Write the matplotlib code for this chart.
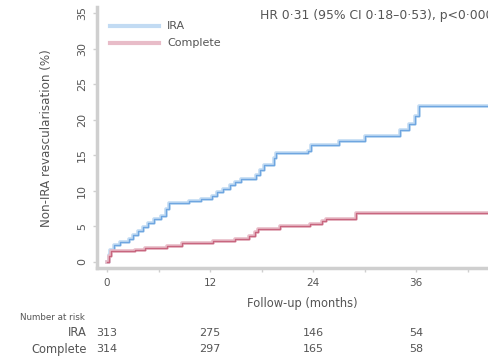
import matplotlib
matplotlib.use("Agg")
import matplotlib.pyplot as plt
from matplotlib.lines import Line2D

# ---- data ----
ira_t = [0, 0.2, 0.4, 0.8, 1.5, 2.5, 3.0, 3.6, 4.2, 4.8, 5.5, 6.3, 6.9, 7.2, 9.5, 11.0,
         12.2, 12.8, 13.5, 14.3, 14.9, 15.6, 17.3, 17.8, 18.3, 19.5, 19.7, 23.4, 23.8,
         27.0, 30.0, 34.1, 35.2, 35.9, 36.3, 46]
ira_v = [0, 1.0, 1.7, 2.4, 2.8, 3.3, 3.8, 4.3, 4.9, 5.5, 6.0, 6.5, 7.4, 8.3, 8.6, 8.9,
         9.3, 9.8, 10.3, 10.8, 11.3, 11.7, 12.3, 13.0, 13.7, 14.6, 15.3, 15.6, 16.5,
         17.0, 17.8, 18.6, 19.4, 20.5, 21.9, 21.9]
comp_t = [0, 0.2, 0.5, 3.3, 4.4, 7.0, 8.7, 12.4, 14.9, 16.5, 17.2, 17.6, 20.2, 23.7,
          25.0, 25.5, 29.0, 46]
comp_v = [0, 0.8, 1.5, 1.7, 1.9, 2.2, 2.6, 2.9, 3.2, 3.6, 4.2, 4.6, 5.0, 5.4,
          5.8, 6.1, 6.9, 6.9]

risk_times = [0, 12, 24, 36]
risk_ira = [313, 275, 146, 54]
risk_comp = [314, 297, 165, 58]
groups = ["IRA", "Complete"]
y_ticks = [0, 5, 10, 15, 20, 25, 30, 35]
x_ticks = [0, 12, 24, 36]
x_minor = [6, 18, 30, 42]
hr_text = "HR 0\u00b731 (95% CI 0\u00b718\u20130\u00b753), p<0\u00b70001"

blue = "#6fa6e0"
blue_l = "#c2dbf3"
red = "#c8667f"
red_l = "#e8bcc8"
txt = "#555555"
spine_c = "#cfcfcf"

W, H = 489, 360
fig = plt.figure(figsize=(W / 100, H / 100), dpi=100)
ax = fig.add_axes([97 / W, 1 - 268 / H, (489 - 97) / W, (268 - 7) / H])

ax.step(ira_t, ira_v, where="post", color=blue_l, lw=2.6)
ax.step(ira_t, ira_v, where="post", color=blue, lw=1.0)
ax.step(comp_t, comp_v, where="post", color=red_l, lw=2.6)
ax.step(comp_t, comp_v, where="post", color=red, lw=1.0)

ax.set_xlim(-1.17, 44.5)
ax.set_ylim(-0.85, 35.9)
ax.set_yticks(y_ticks)
ax.set_yticklabels([str(v) for v in y_ticks], rotation=90, va="center")
ax.set_xticks(x_ticks)
ax.set_xticks(x_minor, minor=True)
ax.tick_params(axis="both", which="both", colors=spine_c, labelcolor=txt,
               labelsize=7.5, length=3, width=1)
ax.tick_params(axis="y", pad=4, labelsize=8)
ax.tick_params(axis="x", pad=4)
for s in ["top", "right"]:
    ax.spines[s].set_visible(False)
for s in ["left", "bottom"]:
    ax.spines[s].set_color(spine_c)
    ax.spines[s].set_linewidth(2.5)

fig.text(47 / W, 1 - 138 / H, "Non-IRA revascularisation (%)", rotation=90,
         ha="center", va="center", fontsize=8.6, color=txt)
fig.text(302 / W, 1 - 303 / H, "Follow-up (months)", ha="center", va="center",
         fontsize=8.3, color=txt)
fig.text(260 / W, 1 - 16 / H, hr_text, ha="left", va="center", fontsize=8.9, color=txt)

# legend drawn in figure pixel positions
for row_y, name, c in [(26, groups[0], blue_l), (43, groups[1], red_l)]:
    fig.add_artist(Line2D([110 / W, 159 / W], [1 - row_y / H, 1 - row_y / H],
                          color=c, lw=3, transform=fig.transFigure))
    fig.text(167 / W, 1 - row_y / H, name, ha="left", va="center", fontsize=8, color=txt)

# number at risk table
fig.text(20 / W, 1 - 318 / H, "Number at risk", ha="left", va="center",
         fontsize=6.3, color=txt)
for row_y, name, vals in [(333, groups[0], risk_ira), (349, groups[1], risk_comp)]:
    fig.text(87 / W, 1 - row_y / H, name, ha="right", va="center", fontsize=8.3, color=txt)
    for t, v in zip(risk_times, vals):
        xd = ax.transData.transform((t, 0))[0]
        fig.text(xd / fig.bbox.width, 1 - row_y / H, str(v), ha="center",
                 va="center", fontsize=8, color=txt)

fig.savefig("out.png", dpi=100)
